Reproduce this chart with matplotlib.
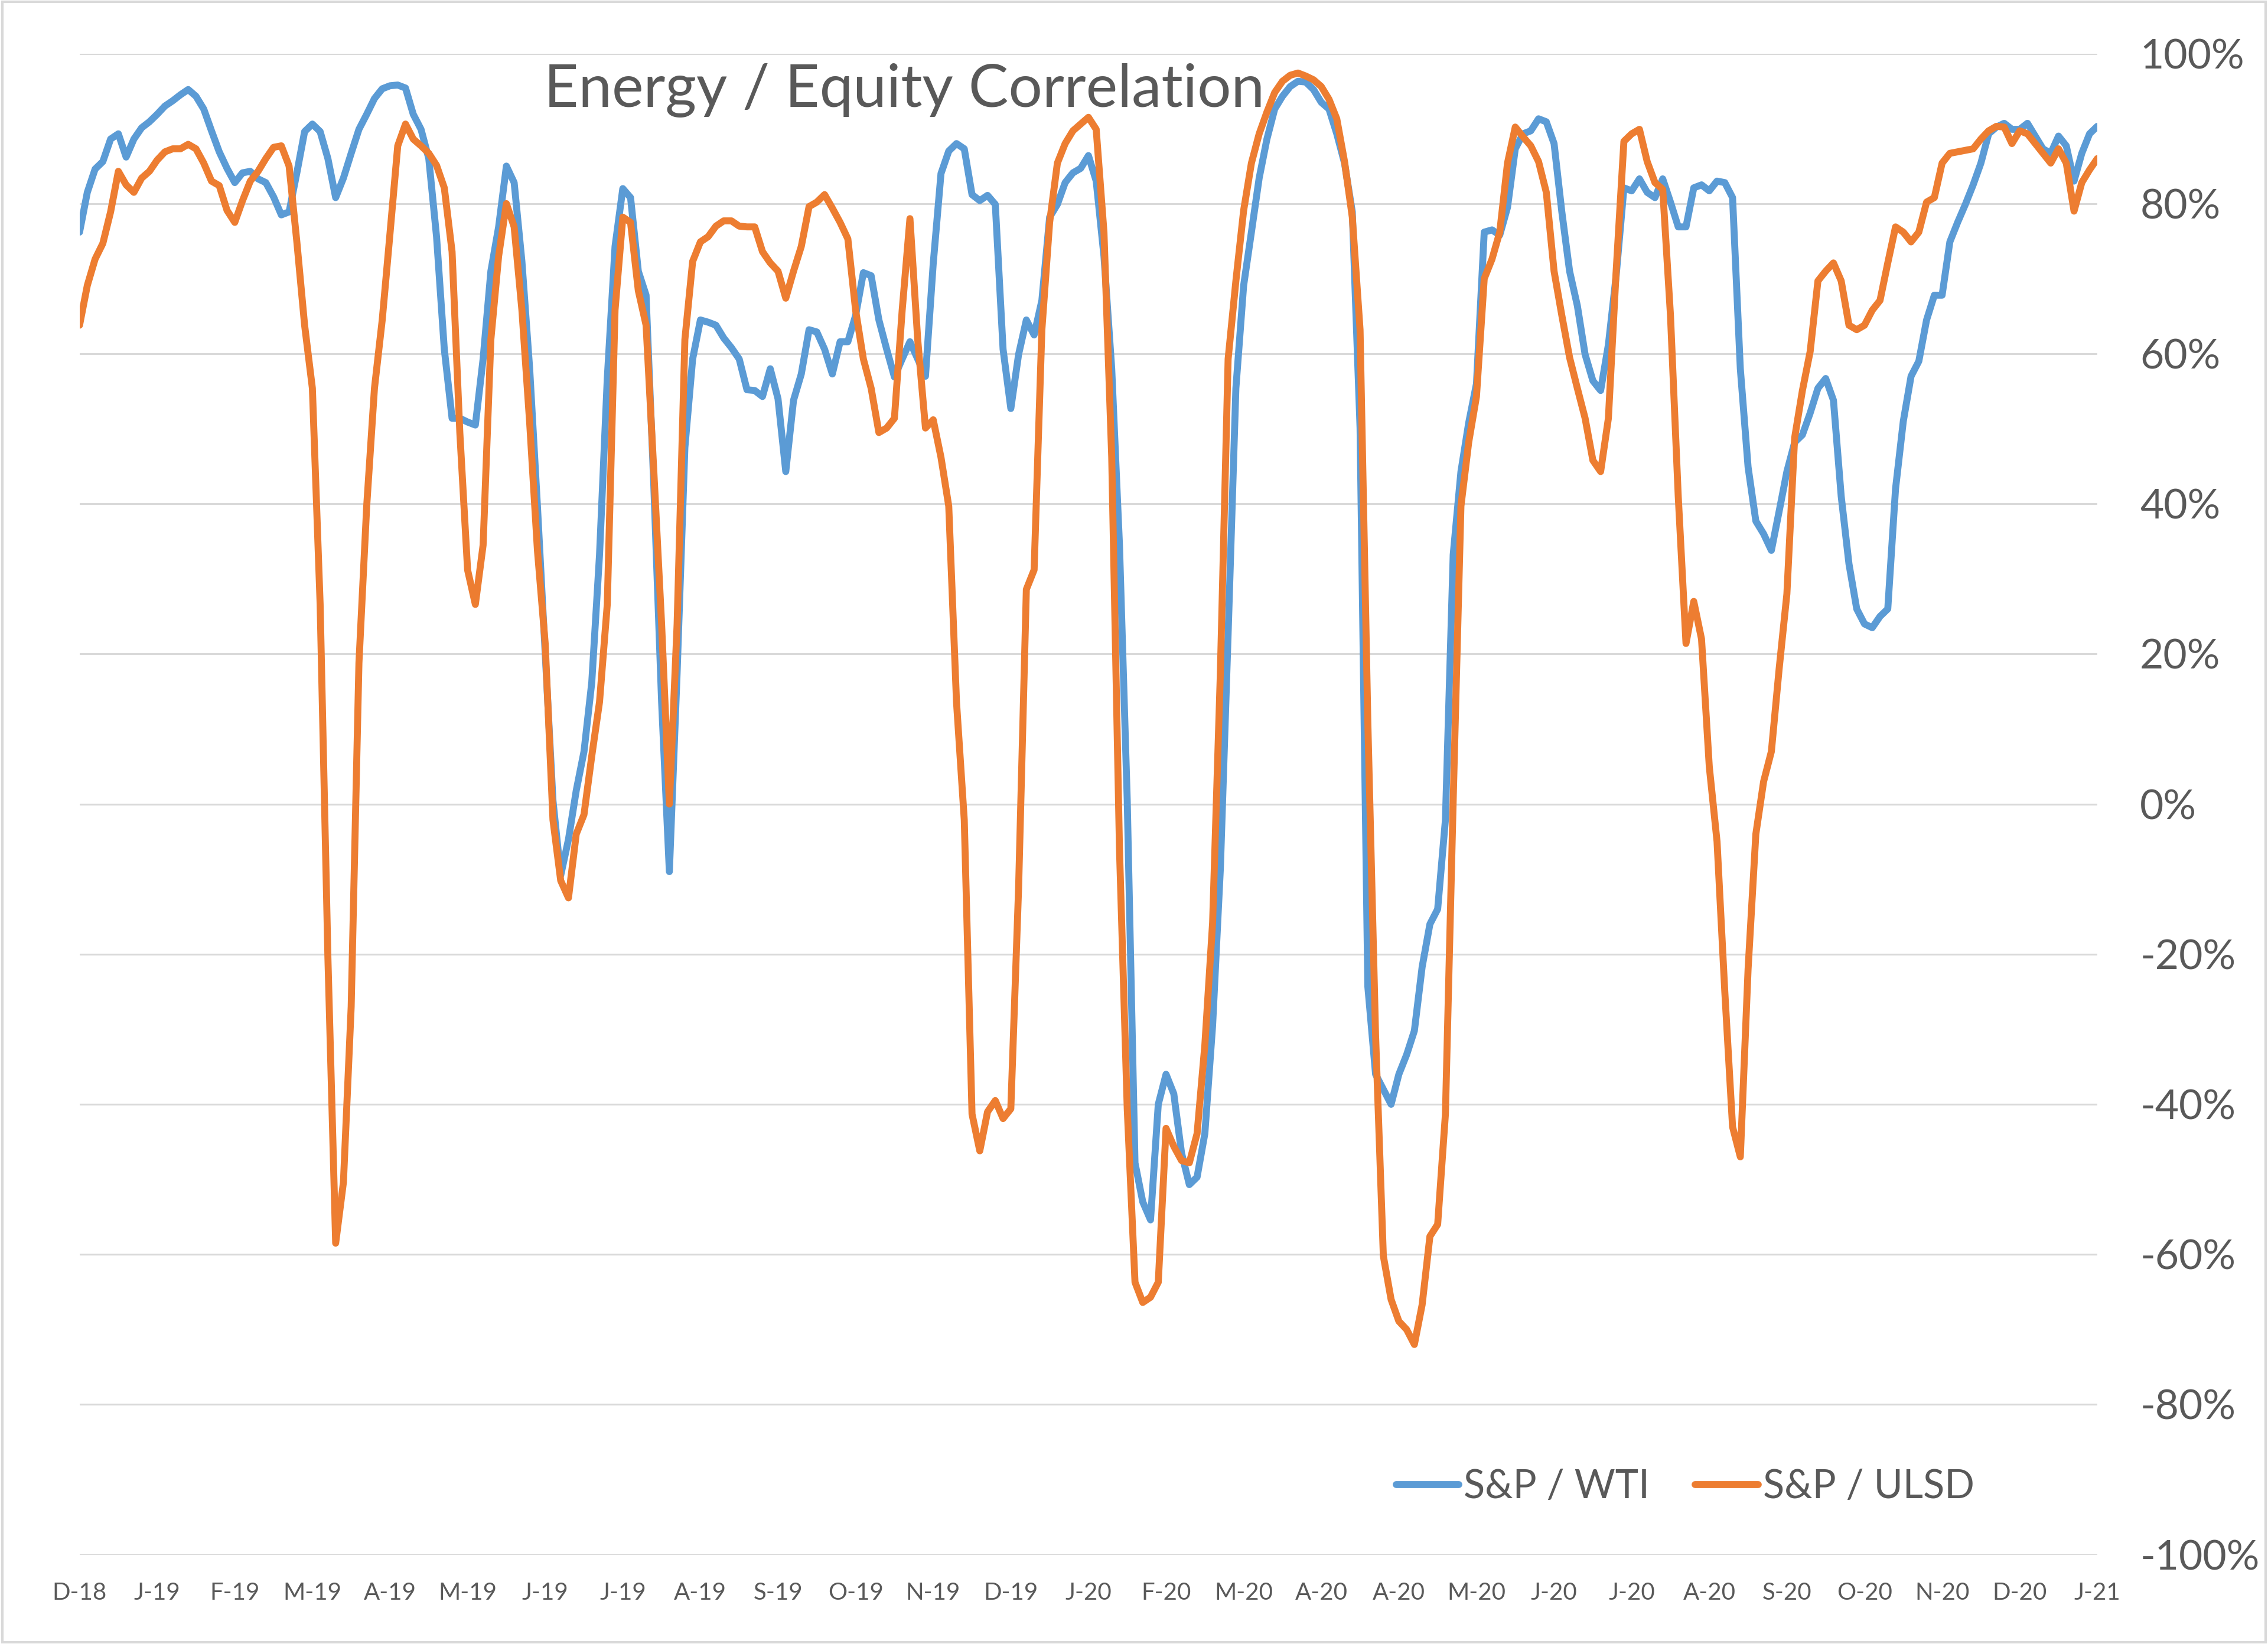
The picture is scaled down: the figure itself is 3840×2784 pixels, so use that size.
import matplotlib
matplotlib.use("Agg")
import matplotlib.pyplot as plt
import numpy as np

plt.rcParams['font.family'] = ['Lato', 'DejaVu Sans']

# x-axis category labels (one every 10 data points)
tick_labels = ["D-18", "J-19", "F-19", "M-19", "A-19", "M-19", "J-19", "J-19", "A-19",
               "S-19", "O-19", "N-19", "D-19", "J-20", "F-20", "M-20", "A-20", "A-20",
               "M-20", "J-20", "J-20", "A-20", "S-20", "O-20", "N-20", "D-20", "J-21"]

# S&P / WTI correlation (%)
sp_wti = [
    76.2, 81.5, 84.6, 85.6, 88.6, 89.3, 86.2, 88.6, 90.1, 90.9,
    91.9, 93.0, 93.7, 94.5, 95.2, 94.3, 92.6, 89.7, 86.9, 84.7,
    82.8, 84.1, 84.3, 83.3, 82.8, 80.9, 78.5, 78.9, 84.1, 89.6,
    90.6, 89.6, 86.0, 80.8, 83.4, 86.7, 89.9, 91.9, 94.0, 95.3,
    95.7, 95.8, 95.4, 91.9, 89.9, 86.0, 75.6, 60.6, 51.4, 51.4,
    50.9, 50.5, 59.3, 71.0, 76.9, 85.0, 82.8, 72.3, 58.0, 39.7,
    20.1, 0.5, -9.5, -4.7, 1.8, 7.0, 16.2, 33.2, 56.7, 74.3,
    82.0, 80.8, 71.0, 67.8, 42.3, 13.6, -9.0, 17.5, 47.5, 59.3,
    64.5, 64.2, 63.8, 62.1, 60.8, 59.3, 55.2, 55.1, 54.3, 58.0,
    54.0, 44.3, 53.8, 57.3, 63.2, 62.9, 60.6, 57.3, 61.6, 61.6,
    65.1, 70.8, 70.4, 64.5, 60.6, 56.9, 59.3, 61.6, 59.3, 57.0,
    72.0, 84.0, 87.0, 88.0, 87.3, 81.2, 80.4, 81.1, 79.9, 60.6,
    52.7, 59.9, 64.5, 62.5, 67.1, 78.2, 79.9, 82.8, 84.1, 84.7,
    86.4, 83.0, 73.0, 58.0, 34.5, 0.5, -47.8, -53.0, -55.4, -40.0,
    -36.0, -38.6, -46.5, -50.7, -49.7, -43.9, -29.5, -8.6, 22.7, 55.4,
    69.1, 76.2, 83.4, 88.6, 92.6, 94.3, 95.6, 96.3, 96.2, 95.2,
    93.5, 92.6, 89.3, 85.4, 78.9, 50.1, -24.3, -36.0, -38.0, -40.0,
    -36.0, -33.4, -30.2, -21.7, -16.0, -14.0, -2.1, 33.2, 44.3, 50.8,
    56.0, 76.2, 76.5, 75.8, 79.5, 87.3, 89.3, 89.7, 91.3, 90.9,
    88.0, 78.9, 71.0, 66.4, 59.9, 56.4, 55.1, 61.2, 70.4, 82.1,
    81.7, 83.3, 81.5, 80.8, 83.3, 80.2, 76.9, 76.9, 82.1, 82.5,
    81.7, 83.0, 82.8, 80.8, 58.0, 44.9, 37.7, 36.0, 33.8, 39.0,
    44.3, 48.2, 49.2, 52.1, 55.4, 56.7, 53.8, 41.0, 32.0, 26.0,
    24.0, 23.5, 25.0, 26.0, 42.0, 51.0, 57.0, 59.0, 64.5, 67.8,
    67.8, 74.9, 77.5, 79.9, 82.5, 85.4, 89.3, 90.2, 90.7, 89.9,
    89.9, 90.7, 89.0, 87.3, 86.7, 89.0, 87.7, 83.0, 86.7, 89.3,
    90.3]

# S&P / ULSD correlation (%)
sp_ulsd = [
    63.8, 69.1, 72.6, 74.7, 78.9, 84.3, 82.5, 81.5, 83.4, 84.3,
    85.8, 86.9, 87.3, 87.3, 87.9, 87.3, 85.4, 83.0, 82.4, 79.1,
    77.5, 80.4, 83.0, 84.3, 86.0, 87.5, 87.7, 85.0, 74.9, 63.8,
    55.4, 26.6, -20.4, -58.5, -50.4, -27.0, 18.8, 39.7, 55.4, 64.5,
    76.0, 87.7, 90.6, 88.6, 87.7, 86.7, 85.1, 82.1, 73.6, 49.5,
    31.2, 26.6, 34.5, 61.9, 73.0, 80.0, 76.9, 65.8, 50.8, 33.8,
    21.4, -2.1, -10.2, -12.5, -4.0, -1.4, 6.4, 13.6, 26.6, 65.8,
    78.2, 77.5, 68.4, 63.8, 44.3, 24.0, 0.0, 24.0, 61.9, 72.3,
    74.9, 75.6, 77.0, 77.7, 77.7, 77.0, 76.9, 76.9, 73.6, 72.1,
    71.0, 67.4, 71.0, 74.3, 79.6, 80.2, 81.2, 79.4, 77.5, 75.3,
    65.8, 59.3, 55.4, 49.5, 50.1, 51.4, 65.8, 78.0, 61.9, 50.1,
    51.2, 46.2, 39.7, 13.6, -2.1, -41.3, -46.2, -41.0, -39.5, -41.9,
    -40.6, -11.2, 28.6, 31.2, 63.2, 77.5, 85.4, 88.0, 89.7, 90.6,
    91.5, 89.9, 76.2, 46.2, -6.0, -40.6, -63.7, -66.4, -65.7, -63.7,
    -43.2, -45.6, -47.5, -47.8, -43.9, -32.1, -15.8, 17.5, 59.3, 69.7,
    79.1, 85.4, 89.3, 92.2, 94.8, 96.3, 97.1, 97.4, 97.0, 96.5,
    95.6, 93.9, 91.3, 85.6, 78.2, 63.2, 11.0, -30.8, -60.2, -66.0,
    -68.9, -70.0, -72.0, -66.7, -57.6, -56.0, -41.3, 0.5, 39.7, 48.2,
    54.3, 70.0, 72.6, 76.2, 85.4, 90.2, 88.9, 87.7, 85.6, 81.5,
    71.0, 65.1, 59.5, 55.4, 51.4, 45.8, 44.3, 51.4, 71.0, 88.3,
    89.3, 89.9, 85.6, 82.8, 81.9, 65.1, 41.0, 21.4, 27.0, 22.0,
    5.0, -5.0, -25.0, -43.0, -47.0, -22.0, -4.0, 3.0, 7.0, 18.0,
    28.0, 48.8, 55.1, 60.3, 69.7, 71.0, 72.1, 69.7, 63.8, 63.2,
    63.8, 65.8, 67.1, 72.1, 76.9, 76.2, 74.9, 76.2, 80.2, 80.8,
    85.4, 86.7, 86.9, 87.1, 87.3, 88.6, 89.7, 90.3, 90.2, 88.0,
    89.7, 89.3, 88.0, 86.7, 85.4, 87.3, 85.4, 79.0, 82.8, 84.5,
    86.0]

assert len(sp_wti) == len(sp_ulsd) == 10 * (len(tick_labels) - 1) + 1

series_names = ["S&P / WTI", "S&P / ULSD"]
colors = ["#5B9BD5", "#ED7D31"]
title = "Energy / Equity Correlation"
text_color = "#595959"

W, H, DPI = 3840, 2784, 100
fig = plt.figure(figsize=(W / DPI, H / DPI), dpi=DPI)
fig.patch.set_facecolor("white")

left, right = 134.7 / W, 3551 / W
bottom, top = 1 - 2632.7 / H, 1 - 90.6 / H
ax = fig.add_axes([left, bottom, right - left, top - bottom])

x = np.arange(len(sp_wti))
for vals, name, c in zip([sp_wti, sp_ulsd], series_names, colors):
    ax.plot(x, np.array(vals) / 100.0, color=c, lw=8.5, label=name,
            solid_joinstyle="round", solid_capstyle="round", zorder=3)

ax.set_xlim(0, len(sp_wti) - 1)
ax.set_ylim(-1.0, 1.0)
yt = np.linspace(-1, 1, 11)
ax.set_yticks(yt)
ax.set_yticklabels([f"{int(round(v * 100))}%" for v in yt])
ax.yaxis.tick_right()
ax.set_xticks(np.arange(0, len(sp_wti), 10))
ax.set_xticklabels(tick_labels)

ax.grid(axis="y", color="#D9D9D9", lw=2.2, zorder=0)
ax.grid(axis="x", visible=False)
for s in ax.spines.values():
    s.set_visible(False)
ax.tick_params(axis="y", length=0, pad=52, labelsize=50, labelcolor=text_color)
ax.tick_params(axis="x", length=0, pad=33, labelsize=29, labelcolor=text_color)

fig.text(0.3987, 0.945, title, ha="center", va="center", fontsize=73,
         color=text_color, zorder=5)

fig.legend(loc="center", bbox_to_anchor=(0.743, 0.0955), ncol=2, frameon=False,
           fontsize=48, handlelength=1.6, handletextpad=0.12, columnspacing=1.15,
           labelcolor=text_color)

# chart area border
fig.add_artist(plt.Rectangle((0.001, 0.001), 0.998, 0.998, transform=fig.transFigure,
                             fill=False, edgecolor="#D9D9D9", lw=3))

fig.savefig("out.png", dpi=DPI, facecolor="white")
